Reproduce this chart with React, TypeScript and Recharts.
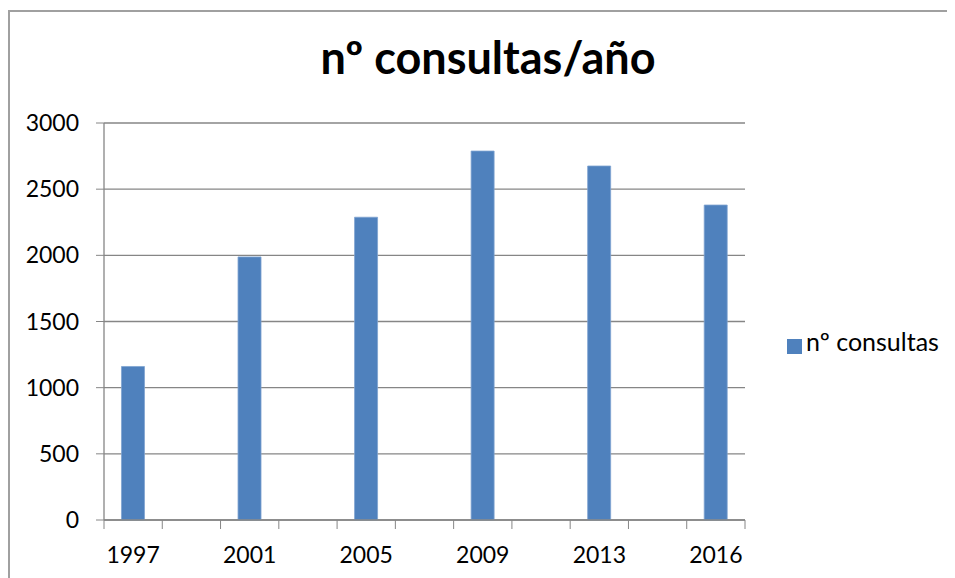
import { BarChart, Bar, XAxis, YAxis, Legend, CartesianGrid } from 'recharts';

// Excel-style chart: 11 categories, only every other one carries a year and a value
const years = ['1997', '', '2001', '', '2005', '', '2009', '', '2013', '', '2016'];
const consultas = [1160, null, 1988, null, 2288, null, 2788, null, 2675, null, 2380];
const yTicks = [0, 500, 1000, 1500, 2000, 2500, 3000];

const chartData = years.map((year, i) => ({ year, consultas: consultas[i] }));

const FONT = 'Lato, "Open Sans", sans-serif';
const AXIS_GREY = '#868686';

function YearTick(props: any) {
  const { x, y, payload, index, visibleTicksCount } = props;
  const half = payload.offset || 0;
  return (
    <g>
      <line x1={x - half} x2={x - half} y1={y - 9} y2={y} stroke={AXIS_GREY} />
      {index === visibleTicksCount - 1 && (
        <line x1={x + half} x2={x + half} y1={y - 9} y2={y} stroke={AXIS_GREY} />
      )}
      {payload.value !== '' && (
        <text x={x} y={y + 34} textAnchor="middle" fill="#000" fontSize={23} fontFamily={FONT}>
          {payload.value}
        </text>
      )}
    </g>
  );
}

export default function App() {
  return (
    <div style={{ position: 'relative', width: 947, height: 570, fontFamily: FONT }}>
      <div
        style={{
          position: 'absolute',
          left: 0,
          top: 2,
          width: 947,
          height: 568,
          borderLeft: '2px solid #a0a0a0',
          borderTop: '2px solid #a0a0a0',
          boxSizing: 'border-box',
        }}
      />
      <div
        style={{
          position: 'absolute',
          left: 480,
          top: 27,
          transform: 'translateX(-50%)',
          whiteSpace: 'nowrap',
          fontSize: 45,
          fontWeight: 700,
          lineHeight: 1,
          color: '#000',
        }}
      >
        nº consultas/año
      </div>
      <BarChart
        width={947}
        height={570}
        data={chartData}
        margin={{ top: 115, right: 210, bottom: 0, left: 0 }}
        barCategoryGap="30%"
        style={{ position: 'absolute', left: 0, top: 0 }}
      >
        <CartesianGrid vertical={false} stroke={AXIS_GREY} strokeWidth={1.3} />
        <XAxis
          dataKey="year"
          height={58}
          interval={0}
          tickLine={false}
          tickSize={9}
          tickMargin={0}
          axisLine={{ stroke: AXIS_GREY, strokeWidth: 1.3 }}
          tick={<YearTick />}
        />
        <YAxis
          width={96}
          domain={[0, 3000]}
          ticks={yTicks}
          interval={0}
          tickSize={8}
          tickMargin={17}
          axisLine={{ stroke: AXIS_GREY, strokeWidth: 1.3 }}
          tickLine={{ stroke: AXIS_GREY }}
          tick={{ fill: '#000', fontSize: 23, fontFamily: FONT }}
        />
        <Legend
          layout="horizontal"
          verticalAlign="middle"
          align="center"
          iconType="square"
          iconSize={15}
          wrapperStyle={{ left: 779, top: 318, width: 'auto', height: 'auto' }}
          formatter={(value: string) => (
            <span style={{ color: '#000', fontSize: 25, fontFamily: FONT }}>{value}</span>
          )}
        />
        <Bar
          dataKey="consultas"
          name="nº consultas"
          fill="#4F81BD"
          stroke="#7fa3d1"
          strokeWidth={0.8}
          isAnimationActive={false}
        />
      </BarChart>
    </div>
  );
}
